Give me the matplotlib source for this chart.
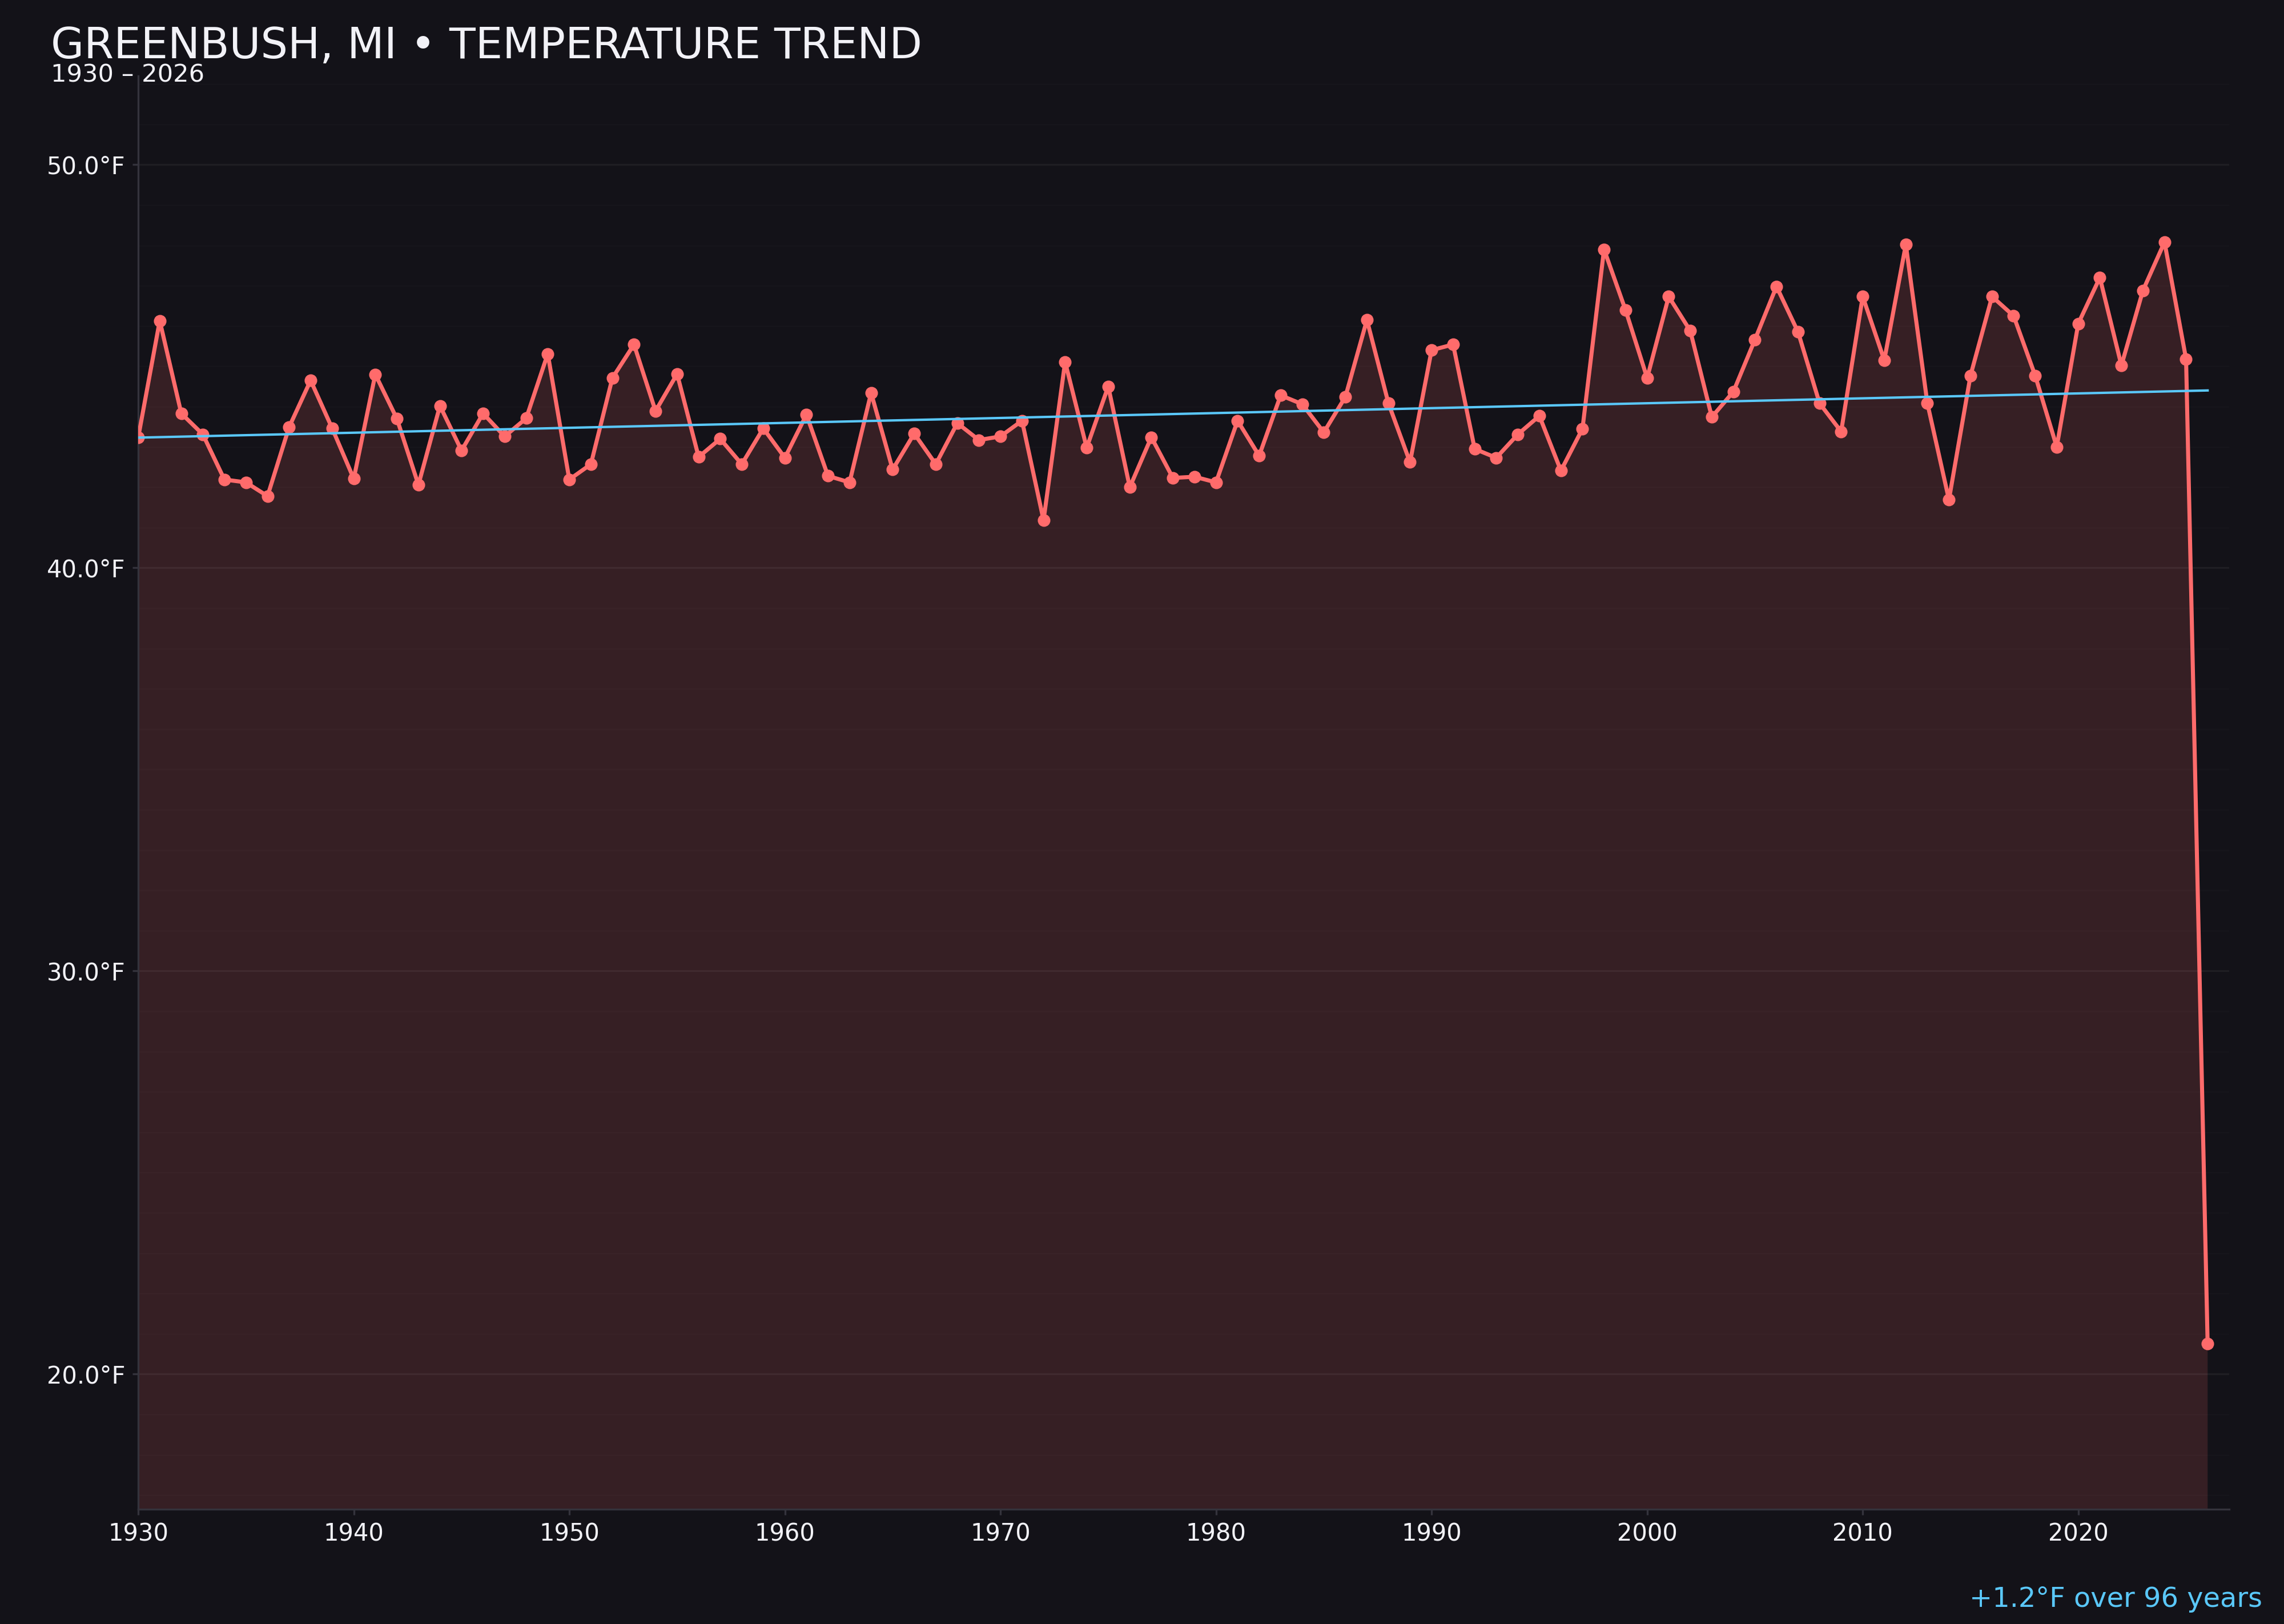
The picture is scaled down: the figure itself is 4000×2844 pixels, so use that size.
import matplotlib
matplotlib.use("Agg")
import matplotlib.pyplot as plt
from matplotlib.ticker import MultipleLocator, FuncFormatter

years = list(range(1930, 2027))
temps = [
    43.23, 46.13, 43.83, 43.31, 42.19, 42.12, 41.78, 43.49, 44.65, 43.46,  # 1930s
    42.21, 44.80, 43.70, 42.06, 44.02, 42.91, 43.83, 43.26, 43.71, 45.31,  # 1940s
    42.19, 42.57, 44.71, 45.54, 43.89, 44.81, 42.75, 43.20, 42.57, 43.46,  # 1950s
    42.73, 43.80, 42.28, 42.12, 44.34, 42.44, 43.33, 42.57, 43.59, 43.17,  # 1960s
    43.26, 43.65, 41.18, 45.11, 42.98, 44.50, 42.00, 43.24, 42.23, 42.26,  # 1970s
    42.12, 43.65, 42.78, 44.28, 44.06, 43.36, 44.24, 46.15, 44.08, 42.62,  # 1980s
    45.40, 45.54, 42.95, 42.73, 43.31, 43.77, 42.41, 43.45, 47.90, 46.39,  # 1990s
    44.71, 46.73, 45.88, 43.74, 44.37, 45.66, 46.98, 45.85, 44.08, 43.38,  # 2000s
    46.73, 45.15, 48.02, 44.08, 41.69, 44.77, 46.73, 46.25, 44.77, 43.00,  # 2010s
    46.06, 47.20, 45.02, 46.88, 48.08, 45.18, 20.76,                       # 2020s
]
trend_years = [1930, 2026]
trend_values = [43.23, 44.40]

title = "GREENBUSH, MI \u2022 TEMPERATURE TREND"
subtitle = "1930 \u2013 2026"
note = "+1.2\u00b0F over 96 years"

BG = "#131218"
RED = "#ff6b6b"
BLUE = "#5ac8fa"
TEXT = "#f2f2f7"
SPINE = "#34333c"

plt.rcParams['font.family'] = ['DejaVu Sans']

fig = plt.figure(figsize=(4000 / 300, 2844 / 300), dpi=300, facecolor=BG)
ax = fig.add_axes([0.0605, 0.0707, 0.9155, 0.8825])
ax.set_facecolor(BG)

ax.fill_between(years, temps, 0, color=RED, alpha=0.15, linewidth=0, zorder=1)
ax.plot(years, temps, color=RED, linewidth=1.7, marker='o', markersize=4.3,
        zorder=3)
ax.plot(trend_years, trend_values, color=BLUE, linewidth=1.0, zorder=4)

ax.set_xlim(1930, 2027)
ax.set_ylim(16.65, 52.2)

ax.xaxis.set_major_locator(MultipleLocator(10))
ax.yaxis.set_major_locator(MultipleLocator(10))
ax.yaxis.set_minor_locator(MultipleLocator(1))
ax.yaxis.set_major_formatter(FuncFormatter(lambda v, p: f"{v:.1f}\u00b0F"))

ax.grid(axis='y', which='major', color='#ffffff', alpha=0.05, linewidth=0.8,
        zorder=2)
ax.grid(axis='y', which='minor', color='#ffffff', alpha=0.015, linewidth=0.6,
        zorder=2)
ax.grid(axis='x', visible=False)

ax.tick_params(axis='both', which='major', colors=SPINE, labelcolor=TEXT,
               labelsize=10, length=2.5, width=0.8, pad=3)
ax.tick_params(axis='y', which='minor', length=0)

for s in ['top', 'right']:
    ax.spines[s].set_visible(False)
for s in ['left', 'bottom']:
    ax.spines[s].set_color(SPINE)
    ax.spines[s].set_linewidth(0.8)

fig.text(0.0223, 0.964, title, color=TEXT, fontsize=18, ha='left',
         va='baseline')
fig.text(0.0223, 0.9497, subtitle, color=TEXT, fontsize=10.4, ha='left',
         va='baseline')
fig.text(0.9905, 0.0105, note, color=BLUE, fontsize=11.5, ha='right',
         va='baseline')

fig.savefig("out.png", dpi=300, facecolor=BG)
